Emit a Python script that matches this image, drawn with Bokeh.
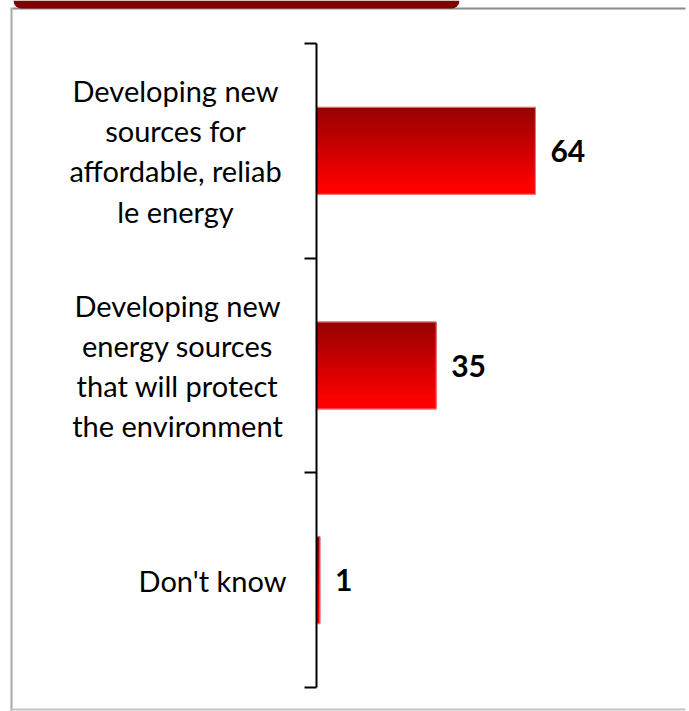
from bokeh.plotting import figure
from bokeh.models import Range1d, FixedTicker, BoxAnnotation, ColumnDataSource
from bokeh.core.properties import value
from bokeh.embed import file_html
from bokeh.resources import INLINE

# ---- data ----
categories = [
    "Developing new\nsources for\naffordable, reliab\nle energy",
    "Developing new\nenergy sources\nthat will protect\nthe environment",
    "Don't know",
]
values = [64, 35, 1]

# ---- layout (pixels) ----
W, H = 689, 711
axis_px = 316          # x pixel of the value axis (value 0)
px_per_unit = 3.42     # horizontal scale
plot_top, plot_bottom = 43, 687
label_center_px = [175, 177, 212]

n = len(categories)
centers = [n - i - 0.5 for i in range(n)]
bar_h = 0.405
py_per_unit = (plot_bottom - plot_top) / n

x0 = -axis_px / px_per_unit
x1 = (W - axis_px) / px_per_unit
y1 = n + plot_top / py_per_unit
y0 = -(H - plot_bottom) / py_per_unit


def dx(px):
    return x0 + px / px_per_unit


def dy(py):
    return y1 - py / py_per_unit


p = figure(width=W, height=H, output_backend="svg", toolbar_location=None,
           x_range=Range1d(x0, x1), y_range=Range1d(y0, y1),
           min_border=0)
p.background_fill_color = "white"
p.border_fill_color = "white"
p.outline_line_color = None
p.xgrid.visible = False
p.ygrid.visible = False
p.xaxis.visible = False

# decorations: frame border lines (page furniture, not data)
p.quad(left=[dx(12), dx(10), dx(10)], right=[dx(W - 4), dx(12), dx(W - 4)],
       top=[dy(7), dy(7), dy(708)], bottom=[dy(9), dy(H), dy(710)],
       fill_color=["#8a8a8a", "#a8a8a8", "#c4c4c4"], line_color=None)

# gradient bars built from thin strips (bright red at bottom, dark red at top)
N = 88
top_rgb = (152, 0, 0)
bot_rgb = (255, 0, 0)
left, right, bottom, top, colors = [], [], [], [], []
for v, c in zip(values, centers):
    b0 = c - bar_h / 2
    h = bar_h / N
    for k in range(N):
        t = min(1.0, max(0.0, (k / (N - 1) - 0.08) / 0.92))
        rgb = tuple(round(bot_rgb[j] + (top_rgb[j] - bot_rgb[j]) * t) for j in range(3))
        left.append(0)
        right.append(v)
        bottom.append(b0 + k * h)
        top.append(b0 + (k + 1) * h)
        colors.append("#%02x%02x%02x" % rgb)
p.quad(left=left, right=right, bottom=bottom, top=top,
       fill_color=colors, line_color=colors, line_width=1)
# faint pink edge around each bar
p.quad(left=[0] * n, right=values,
       bottom=[c - bar_h / 2 for c in centers], top=[c + bar_h / 2 for c in centers],
       fill_color=None, line_color="#f2a0a0", line_width=1, line_alpha=0.8)

# value labels
src = ColumnDataSource(dict(x=values, y=centers, t=[str(v) for v in values]))
p.text(x="x", y="y", text="t", source=src, x_offset=15,
       text_align="left", text_baseline="middle",
       text_font=value("Lato"), text_font_style="bold",
       text_font_size="30px", text_color="#000000")

# category labels (centred lines, block to the left of the axis)
csrc = ColumnDataSource(dict(x=[0] * n, y=centers, t=categories,
                             xo=[cp - axis_px for cp in label_center_px]))
p.text(x="x", y="y", text="t", source=csrc, x_offset="xo",
       text_align="center", text_baseline="middle",
       text_font=value("Lato"), text_font_size="29px",
       text_line_height=1.15, text_color="#000000")

# y axis at value 0: ticks at category boundaries
ax = p.yaxis[0]
ax.fixed_location = 0
ax.bounds = (0, n)
ax.ticker = FixedTicker(ticks=[], minor_ticks=list(range(n + 1)))
ax.major_label_text_font_size = "0px"
ax.major_tick_in = 0
ax.major_tick_out = 0
ax.minor_tick_in = 0
ax.minor_tick_out = 12
ax.minor_tick_line_color = "black"
ax.minor_tick_line_width = 2
ax.axis_line_color = "black"
ax.axis_line_width = 2

# banner at the top
p.add_layout(BoxAnnotation(left=13, right=459, top=0, bottom=8,
                           left_units="canvas", right_units="canvas",
                           top_units="canvas", bottom_units="canvas",
                           fill_color="#7f0000", fill_alpha=1, line_color=None,
                           border_radius=dict(bottom_left=8, bottom_right=8)))

open("out.html", "w").write(file_html(p, INLINE))
